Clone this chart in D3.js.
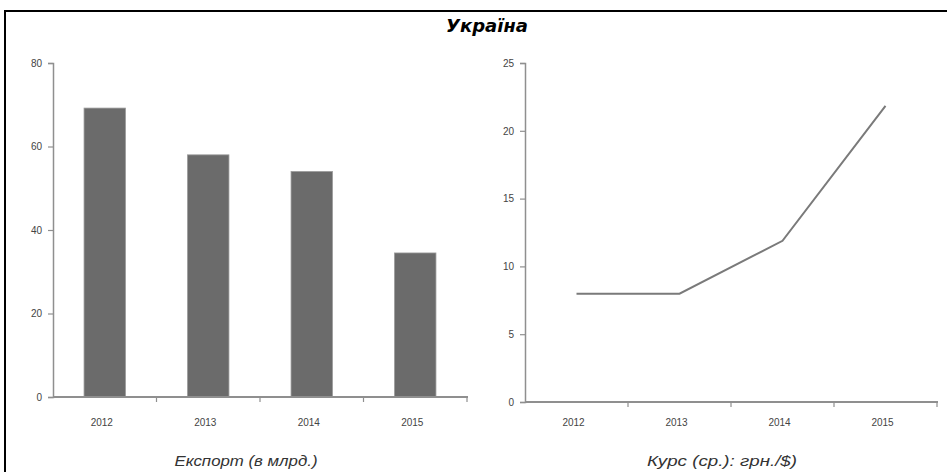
<!DOCTYPE html>
<html>
<head>
<meta charset="utf-8">
<script src="https://cdn.jsdelivr.net/npm/d3@7/dist/d3.min.js"></script>
<style>
  html, body { margin: 0; padding: 0; background: #fff; }
  svg { display: block; }
  .tick text { font-family: "Liberation Sans", Arial, sans-serif; font-size: 10px; fill: #444; }
</style>
</head>
<body>
<svg id="chart" width="947" height="472"></svg>
<script>
// Ukraine: exports (bn USD) and average exchange rate (UAH per USD)
const years = ["2012", "2013", "2014", "2015"];
const exportValues = [69.2, 58.0, 54.0, 34.5];
const rateValues = [7.99, 7.99, 11.89, 21.84];
const exportTicks = [0, 20, 40, 60, 80];
const rateTicks = [0, 5, 10, 15, 20, 25];
const chartTitle = "Україна";
const exportTitle = "Експорт (в млрд.)";
const rateTitle = "Курс (ср.): грн./$)";

const svg = d3.select("#chart");
const axisColor = "#8f8f8f";

// frame around the whole figure (left and top edges are visible)
svg.append("rect")
  .attr("x", 5).attr("y", 11)
  .attr("width", 970).attr("height", 500)
  .attr("fill", "none").attr("stroke", "#000").attr("stroke-width", 2);

svg.append("text")
  .attr("x", 487).attr("y", 32)
  .attr("text-anchor", "middle")
  .attr("font-family", "'DejaVu Sans Condensed', 'DejaVu Sans', sans-serif")
  .attr("font-weight", "bold").attr("font-style", "italic")
  .attr("font-size", 18).attr("fill", "#000")
  .attr("textLength", 82).attr("lengthAdjust", "spacingAndGlyphs")
  .text(chartTitle);

// draws one panel: y axis, x axis with ticks at category boundaries, year labels, caption
function panel(g, x, y, ticks, caption, captionX, captionWidth) {
  const [x0, x1] = x.range();
  const y0 = y.range()[0];

  const yAxis = d3.axisLeft(y).tickValues(ticks).tickSize(5).tickPadding(6);
  const ya = g.append("g").attr("transform", `translate(${x0},0)`).call(yAxis);
  ya.select(".domain").attr("stroke", axisColor).attr("stroke-width", 1.5);
  ya.selectAll(".tick line").attr("stroke", axisColor).attr("stroke-width", 1.2);

  // x axis line and boundary ticks
  g.append("line")
    .attr("x1", x0).attr("x2", x1 + 1)
    .attr("y1", y0).attr("y2", y0)
    .attr("stroke", axisColor).attr("stroke-width", 2);
  const bounds = years.map(d => x(d) - x.step() * x.paddingInner() / 2)
    .concat([x1]);
  g.selectAll(".xtick").data(bounds.slice(1)).join("line")
    .attr("class", "xtick")
    .attr("x1", d => d).attr("x2", d => d)
    .attr("y1", y0).attr("y2", y0 + 5)
    .attr("stroke", axisColor).attr("stroke-width", 1.2);

  g.selectAll(".xlabel").data(years).join("text")
    .attr("class", "xlabel")
    .attr("x", d => x(d) + x.bandwidth() / 2 - 3)
    .attr("y", 426)
    .attr("text-anchor", "middle")
    .attr("font-family", "'Liberation Sans', Arial, sans-serif")
    .attr("font-size", 10).attr("fill", "#444")
    .text(d => d);

  g.append("text")
    .attr("x", captionX).attr("y", 466)
    .attr("text-anchor", "middle")
    .attr("font-family", "'Liberation Sans', Arial, sans-serif")
    .attr("font-style", "italic")
    .attr("font-size", 15).attr("fill", "#333")
    .attr("textLength", captionWidth).attr("lengthAdjust", "spacingAndGlyphs")
    .text(caption);
}

// left panel: exports as bars
const xL = d3.scaleBand().domain(years).range([53, 467]).paddingInner(0.6).paddingOuter(0.3);
const yL = d3.scaleLinear().domain([0, 80]).range([397, 63]);
const gL = svg.append("g");
gL.selectAll(".bar").data(years).join("rect")
  .attr("class", "bar")
  .attr("x", d => xL(d))
  .attr("width", xL.bandwidth())
  .attr("y", (d, i) => yL(exportValues[i]))
  .attr("height", (d, i) => yL(0) - yL(exportValues[i]))
  .attr("fill", "#6b6b6b").attr("stroke", "#9a9a9a").attr("stroke-width", 0.8);
panel(gL, xL, yL, exportTicks, exportTitle, 246, 143);

// right panel: exchange rate as a line
const xR = d3.scaleBand().domain(years).range([525, 937]).paddingInner(0.6).paddingOuter(0.3);
const yR = d3.scaleLinear().domain([0, 25]).range([402, 63]);
const gR = svg.append("g");
panel(gR, xR, yR, rateTicks, rateTitle, 722, 150);
const line = d3.line()
  .x((d, i) => xR(years[i]) + xR.bandwidth() / 2)
  .y(d => yR(d));
gR.append("path")
  .datum(rateValues)
  .attr("d", line)
  .attr("fill", "none").attr("stroke", "#7a7a7a").attr("stroke-width", 2);
</script>
</body>
</html>
